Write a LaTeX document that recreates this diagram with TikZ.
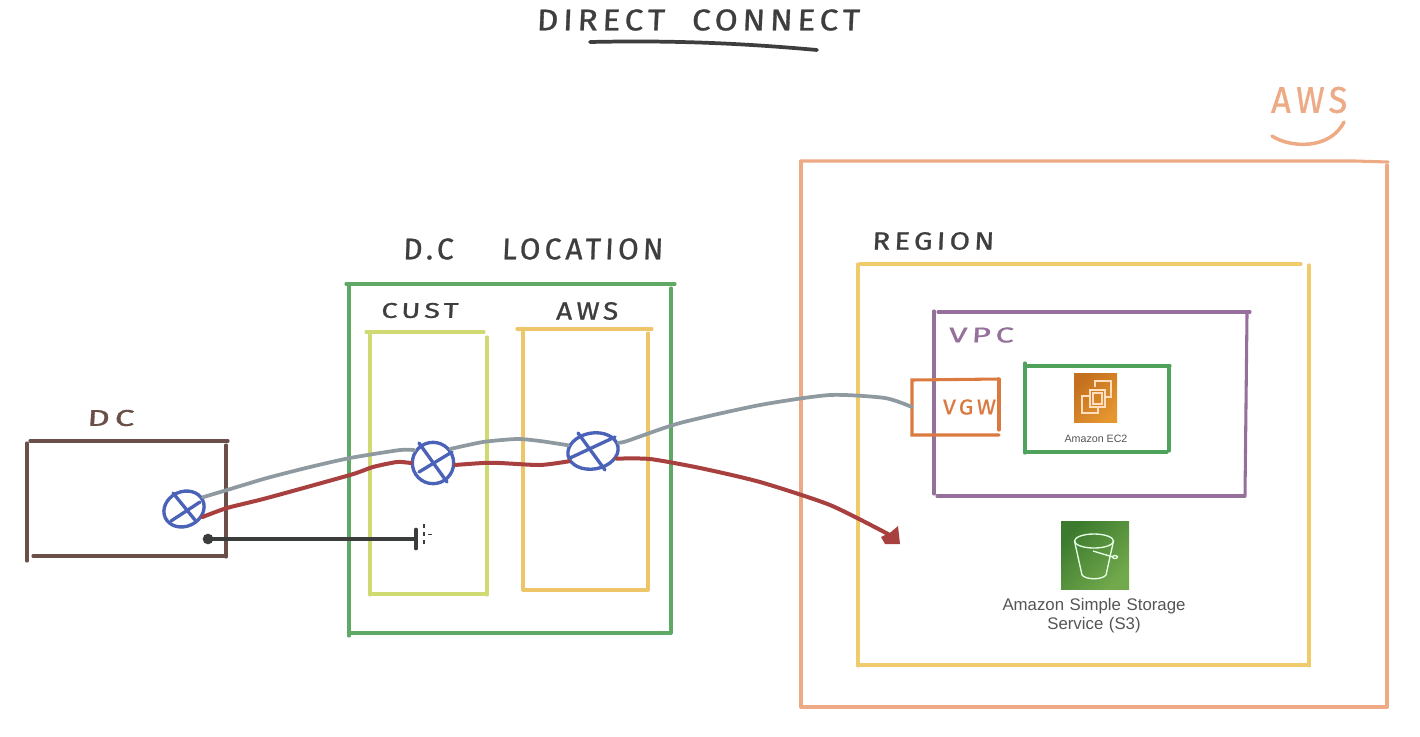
\documentclass[tikz,border=0pt]{standalone}
\usepackage{fontspec}
\setmainfont{Liberation Sans}
\newfontfamily\handfont[LetterSpace=14,FakeBold=0.9,FakeSlant=0.04]{Fira Sans}
\usetikzlibrary{shapes.geometric}
\newdimen\pxu \pxu=0.75pt
\newcommand{\handtxt}[3]{\resizebox{#1\pxu}{#2\pxu}{\handfont #3}}
\definecolor{inkdark}{HTML}{3E3E3E}
\definecolor{awsorange}{HTML}{EDAA84}
\definecolor{regionyellow}{HTML}{EFCB6C}
\definecolor{vpcpurple}{HTML}{94709A}
\definecolor{locgreen}{HTML}{5FA866}
\definecolor{ectwogreen}{HTML}{4FA25C}
\definecolor{dcbrown}{HTML}{6A4E48}
\definecolor{custyellow}{HTML}{D0DA72}
\definecolor{awsbox}{HTML}{EFC56A}
\definecolor{vgworange}{HTML}{DB7A40}
\definecolor{wiregray}{HTML}{8E9AA0}
\definecolor{wirered}{HTML}{A8403F}
\definecolor{routerblue}{HTML}{4A62B8}
\definecolor{blackline}{HTML}{3A3D3C}
\definecolor{labelgray}{HTML}{555555}
\definecolor{ecdark}{HTML}{C4701F}
\definecolor{eclight}{HTML}{E4962F}
\definecolor{sdark}{HTML}{3C7A2E}
\definecolor{slight}{HTML}{72A94C}
\tikzset{
  side/.style={line width=2.3pt,line cap=round},
  routernode/.style={ellipse,draw=routerblue,line width=2.5pt,inner sep=0pt},
  routercross/.style={draw=routerblue,line width=2.5pt,line cap=round},
  graywire/.style={draw=wiregray,line width=2.8pt,line cap=round,line join=round},
  redwire/.style={draw=wirered,line width=3pt,line cap=round,line join=round},
  handlabel/.style={inner sep=0pt,text=inkdark},
  awsfont/.style={inner sep=0pt,font=\fontsize{#1}{14.25}\selectfont,text=labelgray,align=center},
}
\begin{document}
\begin{tikzpicture}[x=0.75pt,y=-0.75pt]
\useasboundingbox (0,0) rectangle (1420,736);
\fill[white] (0,0) rectangle (1420,736);

% Title
\node[handlabel] (title) at (698,20) {\handtxt{323}{21}{DIRECT\ \ CONNECT}};
\draw[inkdark,line width=2.8pt,line cap=round] (590,42) .. controls (680,40) and (750,44) .. (817,50);

% AWS outer
\node[handlabel,text=awsorange] (awstop) at (1309,100) {\handtxt{76}{26}{AWS}};
\draw[awsorange,line width=2.6pt,line cap=round] (1272,136) .. controls (1290,148) and (1330,150) .. (1344,122);
\begin{scope}[side,awsorange]
\draw (801,161) -- (1355,161) -- (1388,162);
\draw (1387,165) -- (1387,707);
\draw (801,707) -- (1387,707);
\draw (801,161) -- (801,707);
\end{scope}

% Region
\node[handlabel] (regionlabel) at (933,241) {\handtxt{122}{17.5}{REGION}};
\begin{scope}[side,regionyellow]
\draw (860,264) -- (1301,264);
\draw (858,264) -- (858,666);
\draw (1309,265) -- (1309,666);
\draw (858,665) -- (1309,665);
\end{scope}

% VPC
\node[handlabel,text=vpcpurple] (vpclabel) at (981,335) {\handtxt{65}{15}{VPC}};
\begin{scope}[side,vpcpurple]
\draw (934,311) -- (934,494);
\draw (938,312) -- (1250,312);
\draw (1247,314) -- (1245,495);
\draw (937,496) -- (1245,496);
\end{scope}

% VGW
\node[minimum width=65pt,minimum height=41pt,inner sep=0pt] (vgwbox) at (955.5,407) {};
\node[handlabel,text=vgworange] (vgwlabel) at (969,407) {\handtxt{53}{15}{VGW}};
\begin{scope}[side,vgworange]
\draw (999,379) -- (912,380) -- (912,435) -- (999,435);
\draw (999,379) -- (999,430);
\end{scope}

% EC2
\begin{scope}[side,ectwogreen]
\draw (1025,363) -- (1025,453);
\draw (1025,366) -- (1170,366);
\draw (1169,366) -- (1169,451);
\draw (1026,452) -- (1167,452);
\end{scope}
\node[minimum width=32.25pt,minimum height=36.75pt,inner sep=0pt,left color=ecdark,right color=eclight,shading angle=45] (ecicon) at (1095.5,398) {};
\begin{scope}[draw=white!75!orange,line width=0.8pt]
\draw (1095,387) -- (1095,381) -- (1111,381) -- (1111,397) -- (1106,397);
\draw (1089,396) -- (1082,396) -- (1082,413) -- (1098,413) -- (1098,408);
\draw (1090,390) rectangle (1105,407);
\draw (1093,393) rectangle (1102,404);
\end{scope}
\node[awsfont=8] (ectext) at (1096,439) {Amazon EC2};

% S3
\node[minimum width=51pt,minimum height=51pt,inner sep=0pt,left color=sdark,right color=slight,shading angle=45] (sthree) at (1095,555) {};
\begin{scope}[draw=white!90!green,line width=1pt]
\draw (1094,541) ellipse [x radius=19.5,y radius=7];
\draw (1074.5,541) -- (1082,575) .. controls (1086,580) and (1102,580) .. (1106,575) -- (1113.5,541);
\draw (1093,551) -- (1113,557);
\draw (1115,557) ellipse [x radius=2.5,y radius=1.5];
\end{scope}
\node[awsfont=12.6,text width=200pt] (sthreetext) at (1094,616) {Amazon Simple Storage\\Service (S3)};

% DC
\node[handlabel,text=dcbrown] (dclabel) at (110.5,418) {\handtxt{47}{16}{DC}};
\begin{scope}[side,dcbrown]
\draw (27,443) -- (27,561);
\draw (30,441) -- (228,441);
\draw (226,445) -- (226,557);
\draw (33,556) -- (226,556);
\end{scope}

% DC location
\node[handlabel] (loclabel) at (533,249) {\handtxt{260}{21}{D.C\ \ \ \ LOCATION}};
\begin{scope}[side,locgreen]
\draw (346,284) -- (675,284);
\draw (349,286) -- (349,636);
\draw (671,288) -- (671,633);
\draw (349,633) -- (671,633);
\end{scope}
\node[handlabel] (custlabel) at (419.5,310.5) {\handtxt{77}{15}{CUST}};
\begin{scope}[side,custyellow]
\draw (366,332) -- (484,332);
\draw (370,334) -- (370,595);
\draw (487,337) -- (487,595);
\draw (370,594) -- (487,594);
\end{scope}
\node[handlabel] (awslabel) at (587,311) {\handtxt{62}{17.5}{AWS}};
\begin{scope}[side,awsbox]
\draw (517,329) -- (652,329);
\draw (523,331) -- (523,590);
\draw (648,333) -- (648,590);
\draw (523,590) -- (648,590);
\end{scope}

% Routers
\node[routernode,minimum width=31pt,minimum height=26pt,rotate=25] (rone) at (184,509) {};
\node[routernode,minimum width=31pt,minimum height=31pt] (rtwo) at (433,463) {};
\node[routernode,minimum width=38pt,minimum height=27pt,rotate=10] (rthree) at (593,451) {};
\draw[routercross] (173,493) -- (195,520);
\draw[routercross] (171,521) -- (200,502);
\draw[routercross] (419,443) -- (447,482);
\draw[routercross] (419,472) -- (452,452);
\draw[routercross] (578,433) -- (605,470);
\draw[routercross] (570,458) -- (615,437);

% Free ends
\coordinate (redend) at (888,534);
\node[circle,fill=blackline,inner sep=0pt,minimum size=8pt] (blackdot) at (208,539) {};
\node[inner sep=0pt,minimum width=2pt,minimum height=14pt] (blackbar) at (416,539) {};

% Gray wire
\draw[graywire] plot[smooth,tension=.4] coordinates {(rone.7) (227,490) (267,478) (310,467) (350,458) (400,450) (rtwo.145)};
\draw[graywire] plot[smooth,tension=.4] coordinates {(rtwo.39) (483,442) (517,439) (540,441) (rthree.157)};
\draw[graywire] plot[smooth,tension=.4] coordinates {(rthree.8) (627,441) (680,423) (760,405) (830,395) (885,398) (vgwbox.west)};

% Red wire
\draw[redwire] plot[smooth,tension=.4] coordinates {(rone.-48) (227,508) (267,498) (350,475) (373,467) (397,462) (rtwo.180)};
\draw[redwire] plot[smooth,tension=.4] coordinates {(rtwo.-5) (483,463) (500,463) (540,465) (rthree.193)};
\draw[redwire] plot[smooth,tension=.4] coordinates {(rthree.-28) (650,459) (700,468) (760,482) (830,505) (redend)};
\fill[wirered] (898,526) -- (900,544) -- (885,544) -- (881,537) -- (891,532) -- cycle;

% Black connector
\draw[blackline,line width=2.6pt] (blackdot.center) -- (blackbar.center);
\draw[blackline,line width=2.6pt,line cap=round] (blackbar.north) -- (blackbar.south);
\draw[blackline,line width=0.8pt,dash pattern=on 3pt off 3pt] (424,524) -- (424,544);
\draw[blackline,line width=0.6pt] (428,534.5) -- (432,534.5);
\end{tikzpicture}
\end{document}
